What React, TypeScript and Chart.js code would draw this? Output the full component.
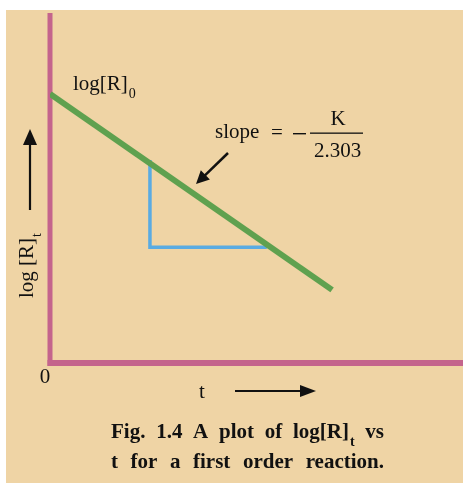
import React, { useEffect, useRef } from "react";
import { Chart, registerables } from "chart.js";

Chart.register(...registerables);

// Straight line of log[R]t against t for a first order reaction
const lineT = [0, 6.83];
const lineLogR = [7.69, 2.09];

// Right-angle triangle under the line that marks the slope
const triT = [2.42, 2.42, 5.25];
const triLogR = [5.8, 3.31, 3.31];

const axisMin = 0;
const axisMaxT = 10;
const axisMaxLogR = 10;

const SERIF = '"Liberation Serif", "DejaVu Serif", serif';
const BG = "#efd4a5";
const AXIS = "#c4648c";
const GREEN = "#5fa14f";
const BLUE = "#5aabe2";
const INK = "#111111";

type Ctx = CanvasRenderingContext2D;

function arrow(ctx: Ctx, x1: number, y1: number, x2: number, y2: number, len: number, half: number, lw: number) {
  const a = Math.atan2(y2 - y1, x2 - x1);
  const bx = x2 - len * Math.cos(a);
  const by = y2 - len * Math.sin(a);
  ctx.save();
  ctx.strokeStyle = INK;
  ctx.fillStyle = INK;
  ctx.lineWidth = lw;
  ctx.beginPath();
  ctx.moveTo(x1, y1);
  ctx.lineTo(bx + Math.cos(a) * 2, by + Math.sin(a) * 2);
  ctx.stroke();
  ctx.beginPath();
  ctx.moveTo(x2, y2);
  ctx.lineTo(bx - half * Math.sin(a), by + half * Math.cos(a));
  ctx.lineTo(bx + half * Math.sin(a), by - half * Math.cos(a));
  ctx.closePath();
  ctx.fill();
  ctx.restore();
}

type Word = { text: string; sub?: string };

function wordWidth(ctx: Ctx, w: Word, size: number, bold: boolean) {
  ctx.font = `${bold ? "bold " : ""}${size}px ${SERIF}`;
  let width = ctx.measureText(w.text).width;
  if (w.sub) {
    ctx.font = `${bold ? "bold " : ""}${Math.round(size * 0.68)}px ${SERIF}`;
    width += ctx.measureText(w.sub).width + 1;
  }
  return width;
}

function drawWord(ctx: Ctx, w: Word, x: number, y: number, size: number, bold: boolean) {
  ctx.font = `${bold ? "bold " : ""}${size}px ${SERIF}`;
  ctx.fillText(w.text, x, y);
  if (w.sub) {
    const mw = ctx.measureText(w.text).width;
    ctx.font = `${bold ? "bold " : ""}${Math.round(size * 0.68)}px ${SERIF}`;
    ctx.fillText(w.sub, x + mw + 1, y + size * 0.38);
  }
}

function justified(ctx: Ctx, words: Word[], left: number, right: number, y: number, size: number) {
  const widths = words.map((w) => wordWidth(ctx, w, size, true));
  const total = widths.reduce((a, b) => a + b, 0);
  const gap = (right - left - total) / (words.length - 1);
  let x = left;
  words.forEach((w, i) => {
    drawWord(ctx, w, x, y, size, true);
    x += widths[i] + gap;
  });
}

const captionLine1: Word[] = [
  { text: "Fig." },
  { text: "1.4" },
  { text: "A" },
  { text: "plot" },
  { text: "of" },
  { text: "log[R]", sub: "t" },
  { text: "vs" },
];
const captionLine2: Word[] = [
  { text: "t" },
  { text: "for" },
  { text: "a" },
  { text: "first" },
  { text: "order" },
  { text: "reaction." },
];

const paperPlugin = {
  id: "paper",
  beforeDraw(chart: Chart) {
    const ctx = chart.ctx;
    ctx.save();
    ctx.fillStyle = "#ffffff";
    ctx.fillRect(0, 0, chart.width, chart.height);
    ctx.fillStyle = BG;
    ctx.fillRect(6, 10, chart.width - 6, chart.height - 10);
    ctx.restore();
  },
};

const axesPlugin = {
  id: "axesLines",
  beforeDatasetsDraw(chart: Chart) {
    const ctx = chart.ctx;
    const xs = chart.scales.x;
    const ys = chart.scales.y;
    const x0 = xs.getPixelForValue(axisMin);
    const y0 = ys.getPixelForValue(axisMin);
    ctx.save();
    ctx.strokeStyle = AXIS;
    ctx.lineCap = "butt";
    ctx.lineWidth = 5;
    ctx.beginPath();
    ctx.moveTo(x0, ys.getPixelForValue(axisMaxLogR));
    ctx.lineTo(x0, y0 + 3);
    ctx.stroke();
    ctx.lineWidth = 6;
    ctx.beginPath();
    ctx.moveTo(x0 - 2.5, y0);
    ctx.lineTo(xs.getPixelForValue(axisMaxT), y0);
    ctx.stroke();
    ctx.restore();
  },
};

const labelsPlugin = {
  id: "labels",
  afterDraw(chart: Chart) {
    const ctx = chart.ctx;
    ctx.save();
    ctx.fillStyle = INK;
    ctx.textBaseline = "alphabetic";
    ctx.textAlign = "left";

    // intercept label
    drawWord(ctx, { text: "log[R]", sub: "0" }, 73, 90, 21, false);

    // slope expression
    ctx.font = `21px ${SERIF}`;
    ctx.fillText("slope", 215, 138);
    ctx.fillText("=", 271, 139);
    ctx.fillRect(293, 133, 13, 1.4);
    ctx.fillRect(310, 132.5, 53, 1.3);
    ctx.textAlign = "center";
    ctx.fillText("K", 338, 125);
    ctx.fillText("2.303", 337.5, 157);
    arrow(ctx, 228, 153, 196, 184, 13, 6.5, 2.5);

    // axis labels
    ctx.font = `21px ${SERIF}`;
    ctx.fillText("0", 45, 383);
    ctx.fillText("t", 202, 398);
    arrow(ctx, 235, 391, 316, 391, 16, 6, 2.2);

    ctx.save();
    ctx.translate(33, 298);
    ctx.rotate(-Math.PI / 2);
    ctx.textAlign = "left";
    drawWord(ctx, { text: "log [R]", sub: "t" }, 0, 0, 21, false);
    ctx.restore();
    arrow(ctx, 30, 210, 30, 129, 16, 7, 2.2);

    // caption
    ctx.textAlign = "left";
    justified(ctx, captionLine1, 111, 384, 438, 21);
    justified(ctx, captionLine2, 111, 384, 468, 21);
    ctx.restore();
  },
};

export default function App() {
  const canvasRef = useRef<HTMLCanvasElement | null>(null);

  useEffect(() => {
    const canvas = canvasRef.current;
    if (!canvas) return;
    const chart = new Chart(canvas, {
      type: "scatter",
      data: {
        datasets: [
          {
            label: "log[R]t",
            data: lineT.map((t, i) => ({ x: t, y: lineLogR[i] })),
            showLine: true,
            borderColor: GREEN,
            borderWidth: 6,
            borderCapStyle: "butt",
            pointRadius: 0,
            order: 1,
          },
          {
            label: "slope",
            data: triT.map((t, i) => ({ x: t, y: triLogR[i] })),
            showLine: true,
            borderColor: BLUE,
            borderWidth: 3.5,
            borderJoinStyle: "miter",
            pointRadius: 0,
            order: 2,
          },
        ],
      },
      options: {
        animation: false,
        responsive: false,
        layout: { padding: { left: 50, top: 13, right: 0, bottom: 120 } },
        scales: {
          x: { type: "linear", min: axisMin, max: axisMaxT, display: false },
          y: { type: "linear", min: axisMin, max: axisMaxLogR, display: false },
        },
        plugins: {
          legend: { display: false },
          tooltip: { enabled: false },
          title: { display: false },
        },
      },
      plugins: [paperPlugin, axesPlugin, labelsPlugin],
    });
    return () => chart.destroy();
  }, []);

  return (
    <div style={{ position: "fixed", left: 0, top: 0, width: 463, height: 483 }}>
      <canvas ref={canvasRef} width={463} height={483} style={{ display: "block", width: 463, height: 483 }} />
    </div>
  );
}
